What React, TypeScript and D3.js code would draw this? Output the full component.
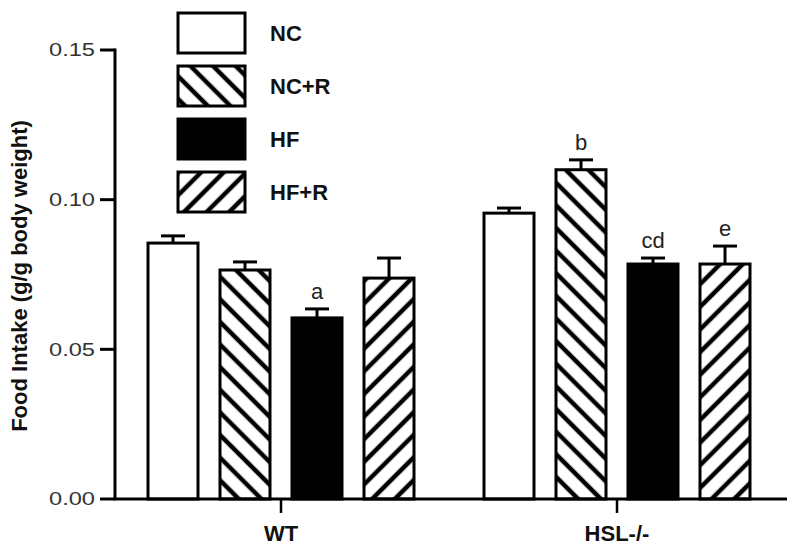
import React from "react";
import * as d3 from "d3";

const groups = ["WT", "HSL-/-"];
const series = ["NC", "NC+R", "HF", "HF+R"];
const means: number[][] = [
  [0.0855, 0.0765, 0.0605, 0.0738],
  [0.0955, 0.110, 0.0785, 0.0785],
];
const errors: number[][] = [
  [0.0024, 0.0027, 0.0030, 0.0067],
  [0.0017, 0.0033, 0.0020, 0.0060],
];
const letters: string[][] = [
  ["", "", "a", ""],
  ["", "b", "cd", "e"],
];
const yTicks = [0, 0.05, 0.1, 0.15];
const fills = ["white", "url(#hatchBack)", "black", "url(#hatchFwd)"];

const W = 800;
const H = 554;
const FONT = "'Liberation Sans', Arial, Helvetica, sans-serif";

export default function App() {
  const y = d3.scaleLinear().domain([0, 0.15]).range([499, 50]);
  const x0 = d3.scalePoint<string>().domain(groups).range([113, 785]).padding(0.5);
  const x1 = d3
    .scaleBand<string>()
    .domain(series)
    .range([-133, 133])
    .paddingInner(22 / 72)
    .paddingOuter(0);
  const bw = x1.bandwidth();
  const legendY = d3.scalePoint<string>().domain(series).range([33, 192]);

  return (
    <svg
      width={W}
      height={H}
      style={{ position: "absolute", left: 0, top: 0, background: "white" }}
    >
      <defs>
        <pattern
          id="hatchBack"
          patternUnits="userSpaceOnUse"
          width={16}
          height={16}
          patternTransform="rotate(-45)"
        >
          <rect width={16} height={16} fill="white" />
          <line x1={8} y1={0} x2={8} y2={16} stroke="black" strokeWidth={4.5} />
        </pattern>
        <pattern
          id="hatchFwd"
          patternUnits="userSpaceOnUse"
          width={16}
          height={16}
          patternTransform="rotate(45)"
        >
          <rect width={16} height={16} fill="white" />
          <line x1={8} y1={0} x2={8} y2={16} stroke="black" strokeWidth={4.5} />
        </pattern>
      </defs>

      {/* bars */}
      {groups.map((g, gi) => {
        const cx = x0(g)!;
        return (
          <g key={g}>
            {series.map((s, si) => {
              const xl = cx + x1(s)!;
              const v = means[gi][si];
              const e = errors[gi][si];
              const xm = xl + bw / 2;
              return (
                <g key={s}>
                  <line x1={xm} x2={xm} y1={y(v)} y2={y(v + e)} stroke="black" strokeWidth={3} />
                  <line x1={xm - 12} x2={xm + 12} y1={y(v + e)} y2={y(v + e)} stroke="black" strokeWidth={3} />
                  <rect
                    x={xl}
                    y={y(v)}
                    width={bw}
                    height={y(0) - y(v)}
                    fill={fills[si]}
                    stroke="black"
                    strokeWidth={3}
                  />
                  {letters[gi][si] && (
                    <text
                      x={xm}
                      y={y(v + e) - 10}
                      textAnchor="middle"
                      fontFamily={FONT}
                      fontSize={22}
                      fill="#222"
                    >
                      {letters[gi][si]}
                    </text>
                  )}
                </g>
              );
            })}
          </g>
        );
      })}

      {/* y axis */}
      <line x1={115} x2={115} y1={y(0.15) - 1.5} y2={y(0)} stroke="black" strokeWidth={3} />
      {yTicks.map((t) => (
        <g key={t}>
          <line x1={100} x2={115} y1={y(t)} y2={y(t)} stroke="black" strokeWidth={3} />
          <text
            x={95}
            y={y(t)}
            dy="0.35em"
            textAnchor="end"
            fontFamily={FONT}
            fontSize={18}
            fill="#333"
            textLength={46}
            lengthAdjust="spacingAndGlyphs"
          >
            {d3.format(".2f")(t)}
          </text>
        </g>
      ))}
      <text
        transform={`translate(27,276) rotate(-90)`}
        textAnchor="middle"
        fontFamily={FONT}
        fontSize={22}
        fontWeight="bold"
        fill="#111"
      >
        Food Intake (g/g body weight)
      </text>

      {/* x axis */}
      <line x1={113.5} x2={787} y1={y(0)} y2={y(0)} stroke="black" strokeWidth={3} />
      {groups.map((g) => (
        <g key={g}>
          <line x1={x0(g)!} x2={x0(g)!} y1={y(0)} y2={y(0) + 14} stroke="black" strokeWidth={2.5} />
          <text
            x={x0(g)!}
            y={541}
            textAnchor="middle"
            fontFamily={FONT}
            fontSize={22}
            fontWeight="bold"
            fill="#111"
          >
            {g}
          </text>
        </g>
      ))}

      {/* legend */}
      {series.map((s, si) => {
        const cy = legendY(s)!;
        return (
          <g key={s}>
            <rect
              x={178}
              y={cy - 20}
              width={67}
              height={40}
              fill={fills[si]}
              stroke="black"
              strokeWidth={3}
            />
            <text
              x={270}
              y={cy}
              dy="0.36em"
              fontFamily={FONT}
              fontSize={22}
              fontWeight="bold"
              fill="#111"
            >
              {s}
            </text>
          </g>
        );
      })}
    </svg>
  );
}
